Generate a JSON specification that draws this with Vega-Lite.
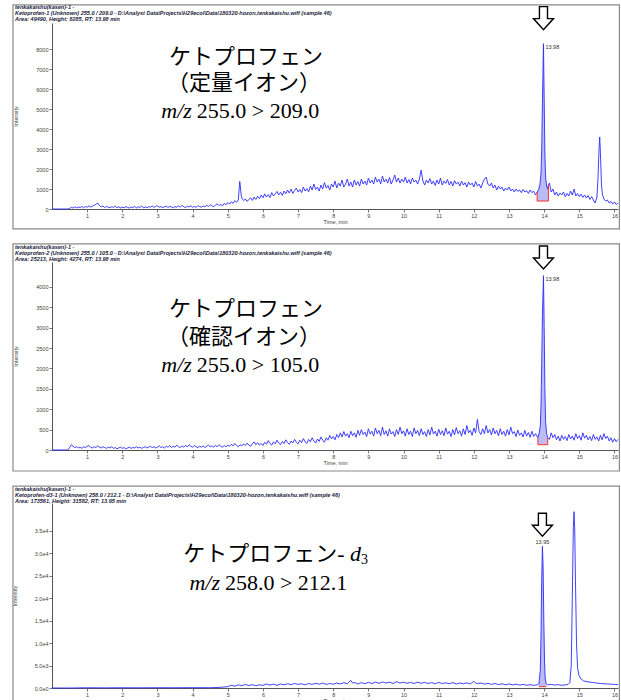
{
"$schema": "https://vega.github.io/schema/vega-lite/v6.json",
"background": "white",
"padding": {"left": 12, "top": 3, "right": 3, "bottom": 0},
"spacing": 13,
"config": {
 "view": {"stroke": null},
 "axis": {"grid": false, "domainColor": "#555", "tickColor": "#555", "labelColor": "#444", "titleColor": "#444", "labelFont": "Liberation Sans", "titleFont": "Liberation Sans", "labelFontSize": 5.5, "titleFontSize": 5.5, "titleFontWeight": "normal", "tickSize": 3, "labelPadding": 1, "domainWidth": 1, "tickWidth": 0.8, "labelOverlap": false, "tickCount": 100},
 "axisX": {"titlePadding": 1},
 "axisY": {"titlePadding": 17},
 "title": {"anchor": "start", "frame": "group", "dx": -37, "offset": -19, "font": "Liberation Sans", "fontSize": 5.5, "fontStyle": "italic", "fontWeight": "bold", "color": "#1a1a3a", "lineHeight": 6}
},
"datasets": {
 "p1": [{"t":0,"v":0},{"t":0.45,"v":0},{"t":0.5,"v":30},{"t":0.55,"v":80},{"t":0.6,"v":50},{"t":0.65,"v":110},{"t":0.7,"v":60},{"t":0.75,"v":100},{"t":0.8,"v":70},{"t":0.85,"v":130},{"t":0.9,"v":60},{"t":0.95,"v":120},{"t":1.0,"v":90},{"t":1.05,"v":160},{"t":1.1,"v":100},{"t":1.15,"v":140},{"t":1.2,"v":180},{"t":1.25,"v":240},{"t":1.3,"v":300},{"t":1.35,"v":170},{"t":1.4,"v":110},{"t":1.45,"v":150},{"t":1.5,"v":70},{"t":1.55,"v":130},{"t":1.6,"v":90},{"t":1.65,"v":60},{"t":1.7,"v":120},{"t":1.75,"v":80},{"t":1.8,"v":140},{"t":1.85,"v":70},{"t":1.9,"v":110},{"t":1.95,"v":50},{"t":2.0,"v":90},{"t":2.05,"v":60},{"t":2.1,"v":120},{"t":2.15,"v":80},{"t":2.2,"v":50},{"t":2.25,"v":100},{"t":2.3,"v":70},{"t":2.35,"v":130},{"t":2.4,"v":60},{"t":2.45,"v":110},{"t":2.5,"v":80},{"t":2.55,"v":140},{"t":2.6,"v":70},{"t":2.65,"v":100},{"t":2.7,"v":60},{"t":2.75,"v":120},{"t":2.8,"v":90},{"t":2.85,"v":150},{"t":2.9,"v":80},{"t":2.95,"v":130},{"t":3.0,"v":160},{"t":3.05,"v":90},{"t":3.1,"v":120},{"t":3.15,"v":70},{"t":3.2,"v":110},{"t":3.25,"v":140},{"t":3.3,"v":80},{"t":3.35,"v":130},{"t":3.4,"v":100},{"t":3.45,"v":60},{"t":3.5,"v":120},{"t":3.55,"v":90},{"t":3.6,"v":150},{"t":3.65,"v":100},{"t":3.7,"v":180},{"t":3.75,"v":110},{"t":3.8,"v":70},{"t":3.85,"v":140},{"t":3.9,"v":100},{"t":3.95,"v":160},{"t":4.0,"v":90},{"t":4.05,"v":130},{"t":4.1,"v":80},{"t":4.15,"v":170},{"t":4.2,"v":120},{"t":4.25,"v":90},{"t":4.3,"v":150},{"t":4.35,"v":110},{"t":4.4,"v":190},{"t":4.45,"v":130},{"t":4.5,"v":220},{"t":4.55,"v":150},{"t":4.6,"v":110},{"t":4.65,"v":200},{"t":4.7,"v":260},{"t":4.75,"v":170},{"t":4.8,"v":230},{"t":4.85,"v":160},{"t":4.9,"v":280},{"t":4.95,"v":210},{"t":5.0,"v":330},{"t":5.05,"v":240},{"t":5.1,"v":360},{"t":5.15,"v":280},{"t":5.2,"v":420},{"t":5.25,"v":330},{"t":5.3,"v":460},{"t":5.32,"v":900},{"t":5.34,"v":1380},{"t":5.36,"v":1100},{"t":5.38,"v":700},{"t":5.4,"v":550},{"t":5.45,"v":420},{"t":5.5,"v":500},{"t":5.55,"v":380},{"t":5.6,"v":480},{"t":5.65,"v":560},{"t":5.7,"v":430},{"t":5.75,"v":600},{"t":5.8,"v":480},{"t":5.85,"v":640},{"t":5.9,"v":520},{"t":5.95,"v":700},{"t":6.0,"v":560},{"t":6.05,"v":760},{"t":6.1,"v":600},{"t":6.15,"v":720},{"t":6.2,"v":580},{"t":6.25,"v":820},{"t":6.3,"v":650},{"t":6.35,"v":760},{"t":6.4,"v":880},{"t":6.45,"v":700},{"t":6.5,"v":840},{"t":6.55,"v":680},{"t":6.6,"v":900},{"t":6.65,"v":760},{"t":6.7,"v":950},{"t":6.75,"v":800},{"t":6.8,"v":1000},{"t":6.85,"v":780},{"t":6.9,"v":920},{"t":6.95,"v":1050},{"t":7.0,"v":850},{"t":7.05,"v":980},{"t":7.1,"v":820},{"t":7.15,"v":1100},{"t":7.2,"v":900},{"t":7.25,"v":1020},{"t":7.3,"v":860},{"t":7.35,"v":1150},{"t":7.4,"v":950},{"t":7.45,"v":1250},{"t":7.5,"v":980},{"t":7.55,"v":1100},{"t":7.6,"v":900},{"t":7.65,"v":1200},{"t":7.7,"v":1000},{"t":7.75,"v":1320},{"t":7.8,"v":1050},{"t":7.85,"v":1180},{"t":7.9,"v":950},{"t":7.95,"v":1250},{"t":8.0,"v":1100},{"t":8.05,"v":1400},{"t":8.1,"v":1050},{"t":8.15,"v":1300},{"t":8.2,"v":1150},{"t":8.25,"v":1450},{"t":8.3,"v":1100},{"t":8.35,"v":1250},{"t":8.4,"v":1500},{"t":8.45,"v":1150},{"t":8.5,"v":1350},{"t":8.55,"v":1100},{"t":8.6,"v":1450},{"t":8.65,"v":1200},{"t":8.7,"v":1380},{"t":8.75,"v":1150},{"t":8.8,"v":1500},{"t":8.85,"v":1250},{"t":8.9,"v":1400},{"t":8.95,"v":1200},{"t":9.0,"v":1550},{"t":9.05,"v":1300},{"t":9.1,"v":1450},{"t":9.15,"v":1250},{"t":9.2,"v":1600},{"t":9.25,"v":1350},{"t":9.3,"v":1500},{"t":9.35,"v":1250},{"t":9.4,"v":1650},{"t":9.45,"v":1350},{"t":9.5,"v":1500},{"t":9.55,"v":1300},{"t":9.6,"v":1580},{"t":9.65,"v":1250},{"t":9.7,"v":1450},{"t":9.75,"v":1700},{"t":9.8,"v":1350},{"t":9.85,"v":1550},{"t":9.9,"v":1300},{"t":9.95,"v":1500},{"t":10.0,"v":1350},{"t":10.05,"v":1600},{"t":10.1,"v":1300},{"t":10.15,"v":1480},{"t":10.2,"v":1250},{"t":10.25,"v":1550},{"t":10.3,"v":1350},{"t":10.35,"v":1450},{"t":10.4,"v":1250},{"t":10.45,"v":1500},{"t":10.5,"v":1950},{"t":10.55,"v":1400},{"t":10.6,"v":1200},{"t":10.65,"v":1450},{"t":10.7,"v":1300},{"t":10.75,"v":1520},{"t":10.8,"v":1250},{"t":10.85,"v":1400},{"t":10.9,"v":1180},{"t":10.95,"v":1450},{"t":11.0,"v":1250},{"t":11.05,"v":1550},{"t":11.1,"v":1200},{"t":11.15,"v":1400},{"t":11.2,"v":1280},{"t":11.25,"v":1480},{"t":11.3,"v":1200},{"t":11.35,"v":1380},{"t":11.4,"v":1150},{"t":11.45,"v":1420},{"t":11.5,"v":1250},{"t":11.55,"v":1350},{"t":11.6,"v":1150},{"t":11.65,"v":1400},{"t":11.7,"v":1200},{"t":11.75,"v":1320},{"t":11.8,"v":1100},{"t":11.85,"v":1350},{"t":11.9,"v":1200},{"t":11.95,"v":1300},{"t":12.0,"v":1100},{"t":12.05,"v":1380},{"t":12.1,"v":1150},{"t":12.15,"v":1250},{"t":12.2,"v":1050},{"t":12.25,"v":1300},{"t":12.3,"v":1500},{"t":12.35,"v":1600},{"t":12.4,"v":1250},{"t":12.45,"v":1150},{"t":12.5,"v":1300},{"t":12.55,"v":1050},{"t":12.6,"v":1200},{"t":12.65,"v":950},{"t":12.7,"v":1150},{"t":12.75,"v":1000},{"t":12.8,"v":1100},{"t":12.85,"v":900},{"t":12.9,"v":1050},{"t":12.95,"v":950},{"t":13.0,"v":1100},{"t":13.05,"v":900},{"t":13.1,"v":1000},{"t":13.15,"v":850},{"t":13.2,"v":1000},{"t":13.25,"v":880},{"t":13.3,"v":950},{"t":13.35,"v":820},{"t":13.4,"v":980},{"t":13.45,"v":850},{"t":13.5,"v":920},{"t":13.55,"v":780},{"t":13.6,"v":950},{"t":13.65,"v":820},{"t":13.7,"v":900},{"t":13.75,"v":700},{"t":13.8,"v":850},{"t":13.85,"v":1000},{"t":13.88,"v":1250},{"t":13.91,"v":1800},{"t":13.93,"v":3000},{"t":13.95,"v":5300},{"t":13.98,"v":8285},{"t":14.0,"v":5500},{"t":14.02,"v":2800},{"t":14.04,"v":1600},{"t":14.07,"v":1150},{"t":14.1,"v":1000},{"t":14.12,"v":1200},{"t":14.15,"v":1300},{"t":14.18,"v":1000},{"t":14.2,"v":850},{"t":14.25,"v":1000},{"t":14.3,"v":700},{"t":14.35,"v":850},{"t":14.4,"v":650},{"t":14.45,"v":800},{"t":14.5,"v":700},{"t":14.55,"v":850},{"t":14.6,"v":620},{"t":14.65,"v":780},{"t":14.7,"v":650},{"t":14.75,"v":900},{"t":14.8,"v":700},{"t":14.85,"v":1000},{"t":14.9,"v":650},{"t":14.95,"v":780},{"t":15.0,"v":620},{"t":15.05,"v":750},{"t":15.1,"v":580},{"t":15.15,"v":700},{"t":15.2,"v":550},{"t":15.25,"v":680},{"t":15.3,"v":480},{"t":15.35,"v":620},{"t":15.4,"v":450},{"t":15.45,"v":300},{"t":15.5,"v":600},{"t":15.53,"v":1500},{"t":15.56,"v":3000},{"t":15.58,"v":3600},{"t":15.6,"v":2800},{"t":15.63,"v":1200},{"t":15.66,"v":700},{"t":15.7,"v":500},{"t":15.75,"v":400},{"t":15.8,"v":450},{"t":15.85,"v":300},{"t":15.9,"v":380},{"t":15.95,"v":250},{"t":16.0,"v":350},{"t":16.05,"v":220},{"t":16.1,"v":300}],
 "p2": [{"t":0,"v":0},{"t":0.45,"v":0},{"t":0.5,"v":60},{"t":0.55,"v":130},{"t":0.6,"v":90},{"t":0.65,"v":60},{"t":0.7,"v":80},{"t":0.75,"v":50},{"t":0.8,"v":70},{"t":0.85,"v":40},{"t":0.9,"v":80},{"t":0.95,"v":60},{"t":1.0,"v":90},{"t":1.05,"v":110},{"t":1.1,"v":70},{"t":1.15,"v":50},{"t":1.2,"v":80},{"t":1.25,"v":60},{"t":1.3,"v":100},{"t":1.35,"v":70},{"t":1.4,"v":50},{"t":1.45,"v":80},{"t":1.5,"v":60},{"t":1.55,"v":40},{"t":1.6,"v":70},{"t":1.65,"v":50},{"t":1.7,"v":80},{"t":1.75,"v":40},{"t":1.8,"v":60},{"t":1.85,"v":30},{"t":1.9,"v":50},{"t":1.95,"v":70},{"t":2.0,"v":40},{"t":2.05,"v":60},{"t":2.1,"v":30},{"t":2.15,"v":50},{"t":2.2,"v":70},{"t":2.25,"v":40},{"t":2.3,"v":60},{"t":2.35,"v":50},{"t":2.4,"v":80},{"t":2.45,"v":50},{"t":2.5,"v":70},{"t":2.55,"v":40},{"t":2.6,"v":60},{"t":2.65,"v":80},{"t":2.7,"v":50},{"t":2.75,"v":70},{"t":2.8,"v":90},{"t":2.85,"v":60},{"t":2.9,"v":80},{"t":2.95,"v":50},{"t":3.0,"v":70},{"t":3.05,"v":100},{"t":3.1,"v":60},{"t":3.15,"v":80},{"t":3.2,"v":50},{"t":3.25,"v":90},{"t":3.3,"v":70},{"t":3.35,"v":110},{"t":3.4,"v":60},{"t":3.45,"v":90},{"t":3.5,"v":70},{"t":3.55,"v":120},{"t":3.6,"v":80},{"t":3.65,"v":60},{"t":3.7,"v":100},{"t":3.75,"v":70},{"t":3.8,"v":110},{"t":3.85,"v":80},{"t":3.9,"v":130},{"t":3.95,"v":90},{"t":4.0,"v":70},{"t":4.05,"v":110},{"t":4.1,"v":80},{"t":4.15,"v":60},{"t":4.2,"v":90},{"t":4.25,"v":70},{"t":4.3,"v":100},{"t":4.35,"v":60},{"t":4.4,"v":90},{"t":4.45,"v":120},{"t":4.5,"v":80},{"t":4.55,"v":100},{"t":4.6,"v":70},{"t":4.65,"v":110},{"t":4.7,"v":80},{"t":4.75,"v":130},{"t":4.8,"v":90},{"t":4.85,"v":70},{"t":4.9,"v":110},{"t":4.95,"v":80},{"t":5.0,"v":120},{"t":5.05,"v":90},{"t":5.1,"v":140},{"t":5.15,"v":100},{"t":5.2,"v":160},{"t":5.25,"v":110},{"t":5.3,"v":80},{"t":5.35,"v":130},{"t":5.4,"v":100},{"t":5.45,"v":150},{"t":5.5,"v":110},{"t":5.55,"v":170},{"t":5.6,"v":120},{"t":5.65,"v":90},{"t":5.7,"v":150},{"t":5.75,"v":200},{"t":5.8,"v":130},{"t":5.85,"v":180},{"t":5.9,"v":120},{"t":5.95,"v":160},{"t":6.0,"v":110},{"t":6.05,"v":190},{"t":6.1,"v":140},{"t":6.15,"v":230},{"t":6.2,"v":160},{"t":6.25,"v":120},{"t":6.3,"v":200},{"t":6.35,"v":150},{"t":6.4,"v":240},{"t":6.45,"v":170},{"t":6.5,"v":130},{"t":6.55,"v":210},{"t":6.6,"v":160},{"t":6.65,"v":250},{"t":6.7,"v":180},{"t":6.75,"v":140},{"t":6.8,"v":220},{"t":6.85,"v":170},{"t":6.9,"v":260},{"t":6.95,"v":190},{"t":7.0,"v":150},{"t":7.05,"v":240},{"t":7.1,"v":180},{"t":7.15,"v":280},{"t":7.2,"v":200},{"t":7.25,"v":160},{"t":7.3,"v":260},{"t":7.35,"v":200},{"t":7.4,"v":300},{"t":7.45,"v":220},{"t":7.5,"v":170},{"t":7.55,"v":270},{"t":7.6,"v":210},{"t":7.65,"v":320},{"t":7.7,"v":240},{"t":7.75,"v":190},{"t":7.8,"v":300},{"t":7.85,"v":240},{"t":7.9,"v":360},{"t":7.95,"v":270},{"t":8.0,"v":330},{"t":8.05,"v":250},{"t":8.1,"v":380},{"t":8.15,"v":300},{"t":8.2,"v":420},{"t":8.25,"v":320},{"t":8.3,"v":450},{"t":8.35,"v":340},{"t":8.4,"v":400},{"t":8.45,"v":300},{"t":8.5,"v":460},{"t":8.55,"v":350},{"t":8.6,"v":420},{"t":8.65,"v":310},{"t":8.7,"v":480},{"t":8.75,"v":360},{"t":8.8,"v":500},{"t":8.85,"v":380},{"t":8.9,"v":440},{"t":8.95,"v":330},{"t":9.0,"v":520},{"t":9.05,"v":390},{"t":9.1,"v":460},{"t":9.15,"v":340},{"t":9.2,"v":540},{"t":9.25,"v":400},{"t":9.3,"v":480},{"t":9.35,"v":350},{"t":9.4,"v":560},{"t":9.45,"v":380},{"t":9.5,"v":470},{"t":9.55,"v":340},{"t":9.6,"v":520},{"t":9.65,"v":390},{"t":9.7,"v":450},{"t":9.75,"v":330},{"t":9.8,"v":500},{"t":9.85,"v":380},{"t":9.9,"v":560},{"t":9.95,"v":400},{"t":10.0,"v":470},{"t":10.05,"v":340},{"t":10.1,"v":520},{"t":10.15,"v":380},{"t":10.2,"v":460},{"t":10.25,"v":330},{"t":10.3,"v":540},{"t":10.35,"v":400},{"t":10.4,"v":480},{"t":10.45,"v":350},{"t":10.5,"v":520},{"t":10.55,"v":380},{"t":10.6,"v":450},{"t":10.65,"v":330},{"t":10.7,"v":500},{"t":10.75,"v":370},{"t":10.8,"v":560},{"t":10.85,"v":390},{"t":10.9,"v":460},{"t":10.95,"v":340},{"t":11.0,"v":510},{"t":11.05,"v":380},{"t":11.1,"v":470},{"t":11.15,"v":350},{"t":11.2,"v":540},{"t":11.25,"v":390},{"t":11.3,"v":460},{"t":11.35,"v":330},{"t":11.4,"v":500},{"t":11.45,"v":370},{"t":11.5,"v":550},{"t":11.55,"v":400},{"t":11.6,"v":470},{"t":11.65,"v":340},{"t":11.7,"v":520},{"t":11.75,"v":380},{"t":11.8,"v":600},{"t":11.85,"v":420},{"t":11.9,"v":480},{"t":11.95,"v":360},{"t":12.0,"v":540},{"t":12.05,"v":420},{"t":12.1,"v":750},{"t":12.15,"v":450},{"t":12.2,"v":380},{"t":12.25,"v":520},{"t":12.3,"v":400},{"t":12.35,"v":600},{"t":12.4,"v":420},{"t":12.45,"v":500},{"t":12.5,"v":370},{"t":12.55,"v":540},{"t":12.6,"v":400},{"t":12.65,"v":480},{"t":12.7,"v":350},{"t":12.75,"v":520},{"t":12.8,"v":380},{"t":12.85,"v":460},{"t":12.9,"v":340},{"t":12.95,"v":500},{"t":13.0,"v":370},{"t":13.05,"v":560},{"t":13.1,"v":400},{"t":13.15,"v":450},{"t":13.2,"v":330},{"t":13.25,"v":490},{"t":13.3,"v":360},{"t":13.35,"v":420},{"t":13.4,"v":320},{"t":13.45,"v":480},{"t":13.5,"v":340},{"t":13.55,"v":430},{"t":13.6,"v":310},{"t":13.65,"v":460},{"t":13.7,"v":330},{"t":13.75,"v":400},{"t":13.82,"v":300},{"t":13.86,"v":420},{"t":13.89,"v":600},{"t":13.91,"v":1100},{"t":13.93,"v":2100},{"t":13.95,"v":3300},{"t":13.98,"v":4274},{"t":14.0,"v":3000},{"t":14.02,"v":1500},{"t":14.04,"v":700},{"t":14.07,"v":400},{"t":14.1,"v":300},{"t":14.15,"v":260},{"t":14.2,"v":420},{"t":14.25,"v":300},{"t":14.3,"v":380},{"t":14.35,"v":250},{"t":14.4,"v":340},{"t":14.45,"v":220},{"t":14.5,"v":360},{"t":14.55,"v":260},{"t":14.6,"v":330},{"t":14.65,"v":230},{"t":14.7,"v":380},{"t":14.75,"v":270},{"t":14.8,"v":340},{"t":14.85,"v":240},{"t":14.9,"v":400},{"t":14.95,"v":280},{"t":15.0,"v":350},{"t":15.05,"v":240},{"t":15.1,"v":420},{"t":15.15,"v":290},{"t":15.2,"v":360},{"t":15.25,"v":250},{"t":15.3,"v":330},{"t":15.35,"v":230},{"t":15.4,"v":380},{"t":15.45,"v":260},{"t":15.5,"v":320},{"t":15.55,"v":220},{"t":15.6,"v":360},{"t":15.65,"v":250},{"t":15.7,"v":400},{"t":15.75,"v":280},{"t":15.8,"v":340},{"t":15.85,"v":220},{"t":15.9,"v":300},{"t":15.95,"v":190},{"t":16.0,"v":280},{"t":16.05,"v":200},{"t":16.1,"v":260}],
 "p3": [{"t":0,"v":0},{"t":0.5,"v":0},{"t":1.0,"v":50},{"t":1.5,"v":30},{"t":2.0,"v":60},{"t":2.5,"v":40},{"t":3.0,"v":70},{"t":3.5,"v":50},{"t":4.0,"v":80},{"t":4.5,"v":60},{"t":4.8,"v":150},{"t":5.0,"v":300},{"t":5.1,"v":600},{"t":5.2,"v":400},{"t":5.3,"v":700},{"t":5.4,"v":500},{"t":5.5,"v":800},{"t":5.6,"v":550},{"t":5.7,"v":750},{"t":5.8,"v":500},{"t":5.9,"v":700},{"t":6.0,"v":600},{"t":6.1,"v":900},{"t":6.2,"v":650},{"t":6.3,"v":850},{"t":6.4,"v":600},{"t":6.5,"v":900},{"t":6.6,"v":700},{"t":6.7,"v":950},{"t":6.8,"v":750},{"t":6.9,"v":1000},{"t":7.0,"v":800},{"t":7.1,"v":950},{"t":7.2,"v":700},{"t":7.3,"v":1000},{"t":7.4,"v":800},{"t":7.5,"v":1050},{"t":7.6,"v":850},{"t":7.7,"v":1100},{"t":7.8,"v":800},{"t":7.9,"v":1000},{"t":8.0,"v":850},{"t":8.1,"v":1100},{"t":8.2,"v":900},{"t":8.3,"v":1200},{"t":8.4,"v":950},{"t":8.5,"v":1700},{"t":8.55,"v":1100},{"t":8.6,"v":1250},{"t":8.7,"v":900},{"t":8.8,"v":1200},{"t":8.9,"v":950},{"t":9.0,"v":1250},{"t":9.1,"v":1000},{"t":9.2,"v":1300},{"t":9.3,"v":1050},{"t":9.4,"v":1350},{"t":9.5,"v":1100},{"t":9.6,"v":1300},{"t":9.7,"v":1000},{"t":9.8,"v":1400},{"t":9.9,"v":1100},{"t":10.0,"v":1300},{"t":10.1,"v":1050},{"t":10.2,"v":1250},{"t":10.3,"v":1000},{"t":10.4,"v":1300},{"t":10.5,"v":1050},{"t":10.6,"v":1250},{"t":10.7,"v":1000},{"t":10.8,"v":1200},{"t":10.9,"v":950},{"t":11.0,"v":1250},{"t":11.1,"v":1000},{"t":11.2,"v":1150},{"t":11.3,"v":950},{"t":11.4,"v":1200},{"t":11.5,"v":900},{"t":11.6,"v":1100},{"t":11.7,"v":950},{"t":11.8,"v":1150},{"t":11.9,"v":900},{"t":12.0,"v":1500},{"t":12.05,"v":1100},{"t":12.1,"v":1000},{"t":12.2,"v":1100},{"t":12.3,"v":850},{"t":12.4,"v":1050},{"t":12.5,"v":800},{"t":12.6,"v":1000},{"t":12.7,"v":750},{"t":12.8,"v":950},{"t":12.9,"v":700},{"t":13.0,"v":900},{"t":13.1,"v":700},{"t":13.2,"v":850},{"t":13.3,"v":650},{"t":13.4,"v":800},{"t":13.5,"v":600},{"t":13.6,"v":750},{"t":13.7,"v":600},{"t":13.8,"v":700},{"t":13.85,"v":900},{"t":13.89,"v":4000},{"t":13.91,"v":12000},{"t":13.93,"v":24000},{"t":13.95,"v":31582},{"t":13.97,"v":27000},{"t":13.99,"v":15000},{"t":14.01,"v":6000},{"t":14.03,"v":2000},{"t":14.06,"v":900},{"t":14.1,"v":700},{"t":14.2,"v":800},{"t":14.3,"v":650},{"t":14.4,"v":750},{"t":14.5,"v":600},{"t":14.6,"v":700},{"t":14.68,"v":800},{"t":14.73,"v":1200},{"t":14.77,"v":5000},{"t":14.8,"v":20000},{"t":14.83,"v":36000},{"t":14.85,"v":39300},{"t":14.87,"v":35000},{"t":14.89,"v":24000},{"t":14.92,"v":10000},{"t":14.95,"v":4500},{"t":14.99,"v":2800},{"t":15.05,"v":2000},{"t":15.12,"v":1600},{"t":15.22,"v":1400},{"t":15.4,"v":1200},{"t":15.5,"v":1100},{"t":15.6,"v":1000},{"t":15.7,"v":950},{"t":15.8,"v":900},{"t":15.9,"v":850},{"t":16.0,"v":800},{"t":16.1,"v":750}],
 "k1": [{"s":13.8,"e":14.12,"b":400,"rt":13.98,"h":8285,"lbl":"13.98"}],
 "k2": [{"s":13.82,"e":14.1,"b":130,"rt":13.98,"h":4274,"lbl":"13.98"}],
 "k3": [{"s":13.85,"e":14.06,"b":300,"rt":13.95,"h":31582,"lbl":"13.95"}]
},
"vconcat": [
 {
  "width": 566, "height": 186,
  "title": {"text": ["tenkakaishu(kasen)-1 -", "Ketoprofen-1 (Unknown) 255.0 / 209.0 - D:\\Analyst Data\\Projects\\H29ecol\\Data\\180320-hozon,tenkakaishu.wiff (sample 46)", "Area: 49490, Height: 8285, RT: 13.98 min"]},
  "layer": [
   {"data": {"values": [{}]}, "mark": {"type": "rect", "fillOpacity": 0, "stroke": "#8a8a8a", "strokeWidth": 1.2}, "encoding": {"x": {"datum": -1.11, "type": "quantitative"}, "x2": {"datum": 16.14}, "y": {"datum": -1000, "type": "quantitative"}, "y2": {"datum": 10230}}},
   {"data": {"name": "p1"}, "transform": [{"filter": "datum.t >= 13.8 && datum.t <= 14.12"}], "mark": {"type": "area", "color": "#bcbcf4"}, "encoding": {"x": {"field": "t", "type": "quantitative"}, "y": {"field": "v", "type": "quantitative"}, "y2": {"datum": 400}}},
   {"data": {"name": "p1"}, "mark": {"type": "line", "color": "#2b2bff", "strokeWidth": 0.9}, "encoding": {"x": {"field": "t", "type": "quantitative", "scale": {"domain": [0, 16.1], "nice": false, "zero": false}, "axis": {"values": [1,2,3,4,5,6,7,8,9,10,11,12,13,14,15,16], "format": "d", "title": "Time, min", "labelOverlap": false, "tickCount": 100}}, "y": {"field": "v", "type": "quantitative", "scale": {"domain": [0, 9320], "nice": false}, "axis": {"values": [0,1000,2000,3000,4000,5000,6000,7000,8000], "format": "d", "title": "Intensity", "labelOverlap": false, "tickCount": 100}}}},
   {"data": {"name": "k1"}, "mark": {"type": "rule", "color": "#ff3030", "strokeWidth": 1}, "encoding": {"x": {"field": "s", "type": "quantitative"}, "x2": {"field": "e"}, "y": {"field": "b", "type": "quantitative"}}},
   {"data": {"name": "p1"}, "transform": [{"filter": "datum.t == 13.8 || datum.t == 14.12"}], "mark": {"type": "rule", "color": "#ff3030", "strokeWidth": 1}, "encoding": {"x": {"field": "t", "type": "quantitative"}, "y": {"field": "v", "type": "quantitative"}, "y2": {"datum": 400}}},
   {"data": {"name": "k1"}, "mark": {"type": "text", "align": "left", "baseline": "top", "dx": 2, "dy": 1, "fontSize": 5.5, "font": "Liberation Sans", "color": "#333"}, "encoding": {"x": {"field": "rt", "type": "quantitative"}, "y": {"field": "h", "type": "quantitative"}, "text": {"field": "lbl"}}},
   {"data": {"name": "k1"}, "mark": {"type": "point", "shape": "M -0.35 -3.22 L 0.35 -3.22 L 0.35 -2.18 L 0.87 -2.18 L 0 -1.22 L -0.87 -2.18 L -0.35 -2.18 Z", "size": 529, "filled": false, "stroke": "#000", "strokeWidth": 1.4, "opacity": 1}, "encoding": {"x": {"field": "rt", "type": "quantitative"}, "y": {"field": "h", "type": "quantitative"}}},
   {"data": {"values": [{}]}, "mark": {"type": "text", "text": "ケトプロフェン", "font": "Liberation Serif, Noto Sans CJK JP", "fontSize": 22, "color": "#000"}, "encoding": {"x": {"datum": 5.52, "type": "quantitative"}, "y": {"datum": 7640, "type": "quantitative"}}},
   {"data": {"values": [{}]}, "mark": {"type": "text", "text": "（定量イオン）", "font": "Liberation Serif, Noto Sans CJK JP", "fontSize": 22, "color": "#000"}, "encoding": {"x": {"datum": 5.46, "type": "quantitative"}, "y": {"datum": 6290, "type": "quantitative"}}},
   {"data": {"values": [{}]}, "mark": {"type": "text", "text": "m/z", "align": "right", "font": "Liberation Serif", "fontStyle": "italic", "fontSize": 22, "color": "#000"}, "encoding": {"x": {"datum": 3.98, "type": "quantitative"}, "y": {"datum": 4890, "type": "quantitative"}}},
   {"data": {"values": [{}]}, "mark": {"type": "text", "text": "255.0 > 209.0", "align": "left", "font": "Liberation Serif", "fontSize": 22, "color": "#000"}, "encoding": {"x": {"datum": 4.12, "type": "quantitative"}, "y": {"datum": 4890, "type": "quantitative"}}}
  ]
 },
 {
  "width": 566, "height": 188,
  "title": {"text": ["tenkakaishu(kasen)-1 -", "Ketoprofen-2 (Unknown) 255.0 / 105.0 - D:\\Analyst Data\\Projects\\H29ecol\\Data\\180320-hozon,tenkakaishu.wiff (sample 46)", "Area: 25213, Height: 4274, RT: 13.98 min"]},
  "layer": [
   {"data": {"values": [{}]}, "mark": {"type": "rect", "fillOpacity": 0, "stroke": "#8a8a8a", "strokeWidth": 1.2}, "encoding": {"x": {"datum": -1.11, "type": "quantitative"}, "x2": {"datum": 16.14}, "y": {"datum": -515, "type": "quantitative"}, "y2": {"datum": 5050}}},
   {"data": {"name": "p2"}, "transform": [{"filter": "datum.t >= 13.82 && datum.t <= 14.1"}], "mark": {"type": "area", "color": "#bcbcf4"}, "encoding": {"x": {"field": "t", "type": "quantitative"}, "y": {"field": "v", "type": "quantitative"}, "y2": {"datum": 130}}},
   {"data": {"name": "p2"}, "mark": {"type": "line", "color": "#2b2bff", "strokeWidth": 0.9}, "encoding": {"x": {"field": "t", "type": "quantitative", "scale": {"domain": [0, 16.1], "nice": false, "zero": false}, "axis": {"values": [1,2,3,4,5,6,7,8,9,10,11,12,13,14,15,16], "format": "d", "title": "Time, min", "labelOverlap": false, "tickCount": 100}}, "y": {"field": "v", "type": "quantitative", "scale": {"domain": [0, 4608], "nice": false}, "axis": {"values": [0,500,1000,1500,2000,2500,3000,3500,4000], "format": "d", "title": "Intensity", "labelOverlap": false, "tickCount": 100}}}},
   {"data": {"name": "k2"}, "mark": {"type": "rule", "color": "#ff3030", "strokeWidth": 1}, "encoding": {"x": {"field": "s", "type": "quantitative"}, "x2": {"field": "e"}, "y": {"field": "b", "type": "quantitative"}}},
   {"data": {"name": "p2"}, "transform": [{"filter": "datum.t == 13.82 || datum.t == 14.1"}], "mark": {"type": "rule", "color": "#ff3030", "strokeWidth": 1}, "encoding": {"x": {"field": "t", "type": "quantitative"}, "y": {"field": "v", "type": "quantitative"}, "y2": {"datum": 130}}},
   {"data": {"name": "k2"}, "mark": {"type": "text", "align": "left", "baseline": "top", "dx": 2, "dy": 1, "fontSize": 5.5, "font": "Liberation Sans", "color": "#333"}, "encoding": {"x": {"field": "rt", "type": "quantitative"}, "y": {"field": "h", "type": "quantitative"}, "text": {"field": "lbl"}}},
   {"data": {"name": "k2"}, "mark": {"type": "point", "shape": "M -0.35 -2.57 L 0.35 -2.57 L 0.35 -1.53 L 0.87 -1.53 L 0 -0.57 L -0.87 -1.53 L -0.35 -1.53 Z", "size": 529, "filled": false, "stroke": "#000", "strokeWidth": 1.4, "opacity": 1}, "encoding": {"x": {"field": "rt", "type": "quantitative"}, "y": {"field": "h", "type": "quantitative"}}},
   {"data": {"values": [{}]}, "mark": {"type": "text", "text": "ケトプロフェン", "font": "Liberation Serif, Noto Sans CJK JP", "fontSize": 22, "color": "#000"}, "encoding": {"x": {"datum": 5.52, "type": "quantitative"}, "y": {"datum": 3456, "type": "quantitative"}}},
   {"data": {"values": [{}]}, "mark": {"type": "text", "text": "（確認イオン）", "font": "Liberation Serif, Noto Sans CJK JP", "fontSize": 22, "color": "#000"}, "encoding": {"x": {"datum": 5.46, "type": "quantitative"}, "y": {"datum": 2770, "type": "quantitative"}}},
   {"data": {"values": [{}]}, "mark": {"type": "text", "text": "m/z", "align": "right", "font": "Liberation Serif", "fontStyle": "italic", "fontSize": 22, "color": "#000"}, "encoding": {"x": {"datum": 3.98, "type": "quantitative"}, "y": {"datum": 2083, "type": "quantitative"}}},
   {"data": {"values": [{}]}, "mark": {"type": "text", "text": "255.0 > 105.0", "align": "left", "font": "Liberation Serif", "fontSize": 22, "color": "#000"}, "encoding": {"x": {"datum": 4.12, "type": "quantitative"}, "y": {"datum": 2083, "type": "quantitative"}}}
  ]
 },
 {
  "width": 566, "height": 185,
  "title": {"text": ["tenkakaishu(kasen)-1 -", "Ketoprofen-d3-1 (Unknown) 258.0 / 212.1 - D:\\Analyst Data\\Projects\\H29ecol\\Data\\180320-hozon,tenkakaishu.wiff (sample 46)", "Area: 173561, Height: 31582, RT: 13.95 min"]},
  "layer": [
   {"data": {"values": [{}]}, "mark": {"type": "rect", "fillOpacity": 0, "stroke": "#8a8a8a", "strokeWidth": 1.2}, "encoding": {"x": {"datum": -1.11, "type": "quantitative"}, "x2": {"datum": 16.14}, "y": {"datum": -5100, "type": "quantitative"}, "y2": {"datum": 45000}}},
   {"data": {"name": "p3"}, "transform": [{"filter": "datum.t >= 13.85 && datum.t <= 14.06"}], "mark": {"type": "area", "color": "#bcbcf4"}, "encoding": {"x": {"field": "t", "type": "quantitative"}, "y": {"field": "v", "type": "quantitative"}, "y2": {"datum": 300}}},
   {"data": {"name": "p3"}, "mark": {"type": "line", "color": "#2b2bff", "strokeWidth": 0.9}, "encoding": {"x": {"field": "t", "type": "quantitative", "scale": {"domain": [0, 16.1], "nice": false, "zero": false}, "axis": {"values": [1,2,3,4,5,6,7,8,9,10,11,12,13,14,15,16], "format": "d", "title": "Time, min", "labelOverlap": false, "tickCount": 100}}, "y": {"field": "v", "type": "quantitative", "scale": {"domain": [0, 41240], "nice": false}, "axis": {"values": [0,5000,10000,15000,20000,25000,30000,35000], "labelExpr": "replace(format(datum.value, '.1e'), '+', '')", "title": "Intensity", "labelOverlap": false, "tickCount": 100}}}},
   {"data": {"name": "k3"}, "mark": {"type": "rule", "color": "#ff3030", "strokeWidth": 1}, "encoding": {"x": {"field": "s", "type": "quantitative"}, "x2": {"field": "e"}, "y": {"field": "b", "type": "quantitative"}}},
   {"data": {"name": "k3"}, "mark": {"type": "text", "align": "center", "baseline": "bottom", "dy": -1, "fontSize": 5.5, "font": "Liberation Sans", "color": "#333"}, "encoding": {"x": {"field": "rt", "type": "quantitative"}, "y": {"field": "h", "type": "quantitative"}, "text": {"field": "lbl"}}},
   {"data": {"name": "k3"}, "mark": {"type": "point", "shape": "M -0.35 -2.87 L 0.35 -2.87 L 0.35 -1.83 L 0.87 -1.83 L 0 -0.87 L -0.87 -1.83 L -0.35 -1.83 Z", "size": 529, "filled": false, "stroke": "#000", "strokeWidth": 1.4, "opacity": 1}, "encoding": {"x": {"field": "rt", "type": "quantitative"}, "y": {"field": "h", "type": "quantitative"}}},
   {"data": {"values": [{}]}, "mark": {"type": "text", "text": "ケトプロフェン- ", "align": "left", "font": "Liberation Serif, Noto Sans CJK JP", "fontSize": 22, "color": "#000"}, "encoding": {"x": {"datum": 3.73, "type": "quantitative"}, "y": {"datum": 29870, "type": "quantitative"}}},
   {"data": {"values": [{}]}, "mark": {"type": "text", "text": "d", "align": "left", "font": "Liberation Serif", "fontStyle": "italic", "fontSize": 22, "color": "#000"}, "encoding": {"x": {"datum": 8.48, "type": "quantitative"}, "y": {"datum": 29870, "type": "quantitative"}}},
   {"data": {"values": [{}]}, "mark": {"type": "text", "text": "3", "align": "left", "font": "Liberation Serif", "fontSize": 14, "dy": 6, "color": "#000"}, "encoding": {"x": {"datum": 8.79, "type": "quantitative"}, "y": {"datum": 29870, "type": "quantitative"}}},
   {"data": {"values": [{}]}, "mark": {"type": "text", "text": "m/z", "align": "right", "font": "Liberation Serif", "fontStyle": "italic", "fontSize": 22, "color": "#000"}, "encoding": {"x": {"datum": 4.78, "type": "quantitative"}, "y": {"datum": 23400, "type": "quantitative"}}},
   {"data": {"values": [{}]}, "mark": {"type": "text", "text": "258.0 > 212.1", "align": "left", "font": "Liberation Serif", "fontSize": 22, "color": "#000"}, "encoding": {"x": {"datum": 4.92, "type": "quantitative"}, "y": {"datum": 23400, "type": "quantitative"}}}
  ]
 }
]
}
